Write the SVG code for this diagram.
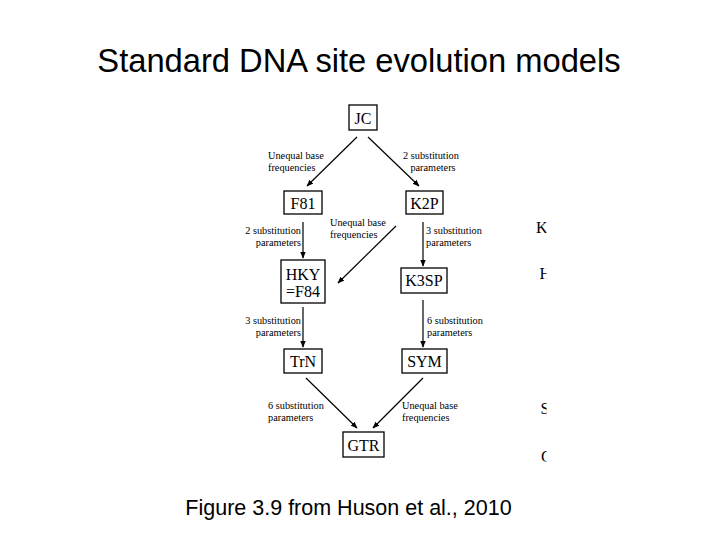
<svg xmlns="http://www.w3.org/2000/svg" width="720" height="540" viewBox="0 0 720 540">
<defs>
<style>
.box{fill:#fff;stroke:#000;stroke-width:1.3}
.nt{font-family:"Liberation Serif","Times New Roman",serif;font-size:16px;fill:#000;text-anchor:middle}
.lb{font-family:"Liberation Serif","Times New Roman",serif;font-size:10.3px;fill:#000}
.r{text-anchor:end}
.c{text-anchor:middle}
.ln{stroke:#000;stroke-width:1.2;fill:none;marker-end:url(#ah)}
.ttl{font-family:"Liberation Sans",Arial,sans-serif;fill:#000;text-anchor:middle}
</style>
<marker id="ah" viewBox="0 0 10 10" refX="9" refY="5" markerWidth="7" markerHeight="7" markerUnits="userSpaceOnUse" orient="auto">
<path d="M0,1 L10,5 L0,9 Z" fill="#000"/>
</marker>
<clipPath id="edge"><rect x="500" y="150" width="46.5" height="330"/></clipPath>
</defs>
<rect width="720" height="540" fill="#fff"/>
<text class="ttl" x="359" y="72" font-size="32.7">Standard DNA site evolution models</text>

<g id="connectors">
<line class="ln" x1="357" y1="137" x2="307" y2="186"/>
<line class="ln" x1="368" y1="137" x2="419" y2="186"/>
<line class="ln" x1="303" y1="222" x2="303" y2="258"/>
<line class="ln" x1="423" y1="222" x2="423" y2="266"/>
<line class="ln" x1="396" y1="226" x2="338" y2="283"/>
<line class="ln" x1="303" y1="307" x2="303" y2="347"/>
<line class="ln" x1="423" y1="300" x2="423" y2="347"/>
<line class="ln" x1="306" y1="378" x2="357" y2="428"/>
<line class="ln" x1="423" y1="378" x2="373" y2="428"/>
<text class="lb" x="268" y="159">Unequal base</text>
<text class="lb" x="268" y="171">frequencies</text>
<text class="lb c" x="431" y="159">2 substitution</text>
<text class="lb c" x="433" y="171">parameters</text>
<text class="lb r" x="301" y="234">2 substitution</text>
<text class="lb r" x="301" y="246">parameters</text>
<text class="lb" x="330" y="226">Unequal base</text>
<text class="lb" x="330" y="238">frequencies</text>
<text class="lb" x="426" y="234">3 substitution</text>
<text class="lb" x="426" y="246">parameters</text>
<text class="lb r" x="301" y="324">3 substitution</text>
<text class="lb r" x="301" y="336">parameters</text>
<text class="lb" x="427" y="324">6 substitution</text>
<text class="lb" x="427" y="336">parameters</text>
<text class="lb" x="268" y="409">6 substitution</text>
<text class="lb" x="268" y="421">parameters</text>
<text class="lb" x="402" y="409">Unequal base</text>
<text class="lb" x="402" y="421">frequencies</text>
</g>

<g id="JC"><rect class="box" x="349" y="105" width="28" height="25"/><text class="nt" x="363" y="124">JC</text></g>
<g id="F81"><rect class="box" x="284" y="191" width="38" height="23"/><text class="nt" x="303" y="209">F81</text></g>
<g id="K2P"><rect class="box" x="406" y="191" width="37" height="23"/><text class="nt" x="424.5" y="209">K2P</text></g>
<g id="HKY"><rect class="box" x="281" y="260" width="44" height="43"/><text class="nt" x="303" y="280">HKY</text><text class="nt" x="303" y="297">=F84</text></g>
<g id="K3SP"><rect class="box" x="401" y="268" width="46" height="25"/><text class="nt" x="424" y="286">K3SP</text></g>
<g id="TrN"><rect class="box" x="284" y="349" width="38" height="24"/><text class="nt" x="303" y="367">TrN</text></g>
<g id="SYM"><rect class="box" x="402" y="349" width="45" height="24"/><text class="nt" x="424.5" y="367">SYM</text></g>
<g id="GTR"><rect class="box" x="343" y="432" width="41" height="25"/><text class="nt" x="363.5" y="451">GTR</text></g>

<g id="edge-fragments" clip-path="url(#edge)" font-family="'Liberation Serif','Times New Roman',serif" font-size="16" fill="#000">
<text x="536" y="233">K</text>
<text x="539.5" y="279">H</text>
<text x="540.5" y="414">S</text>
<text x="541" y="462">C</text>
</g>

<text class="ttl" x="348.5" y="515" font-size="21.5">Figure 3.9 from Huson et al., 2010</text>
</svg>
